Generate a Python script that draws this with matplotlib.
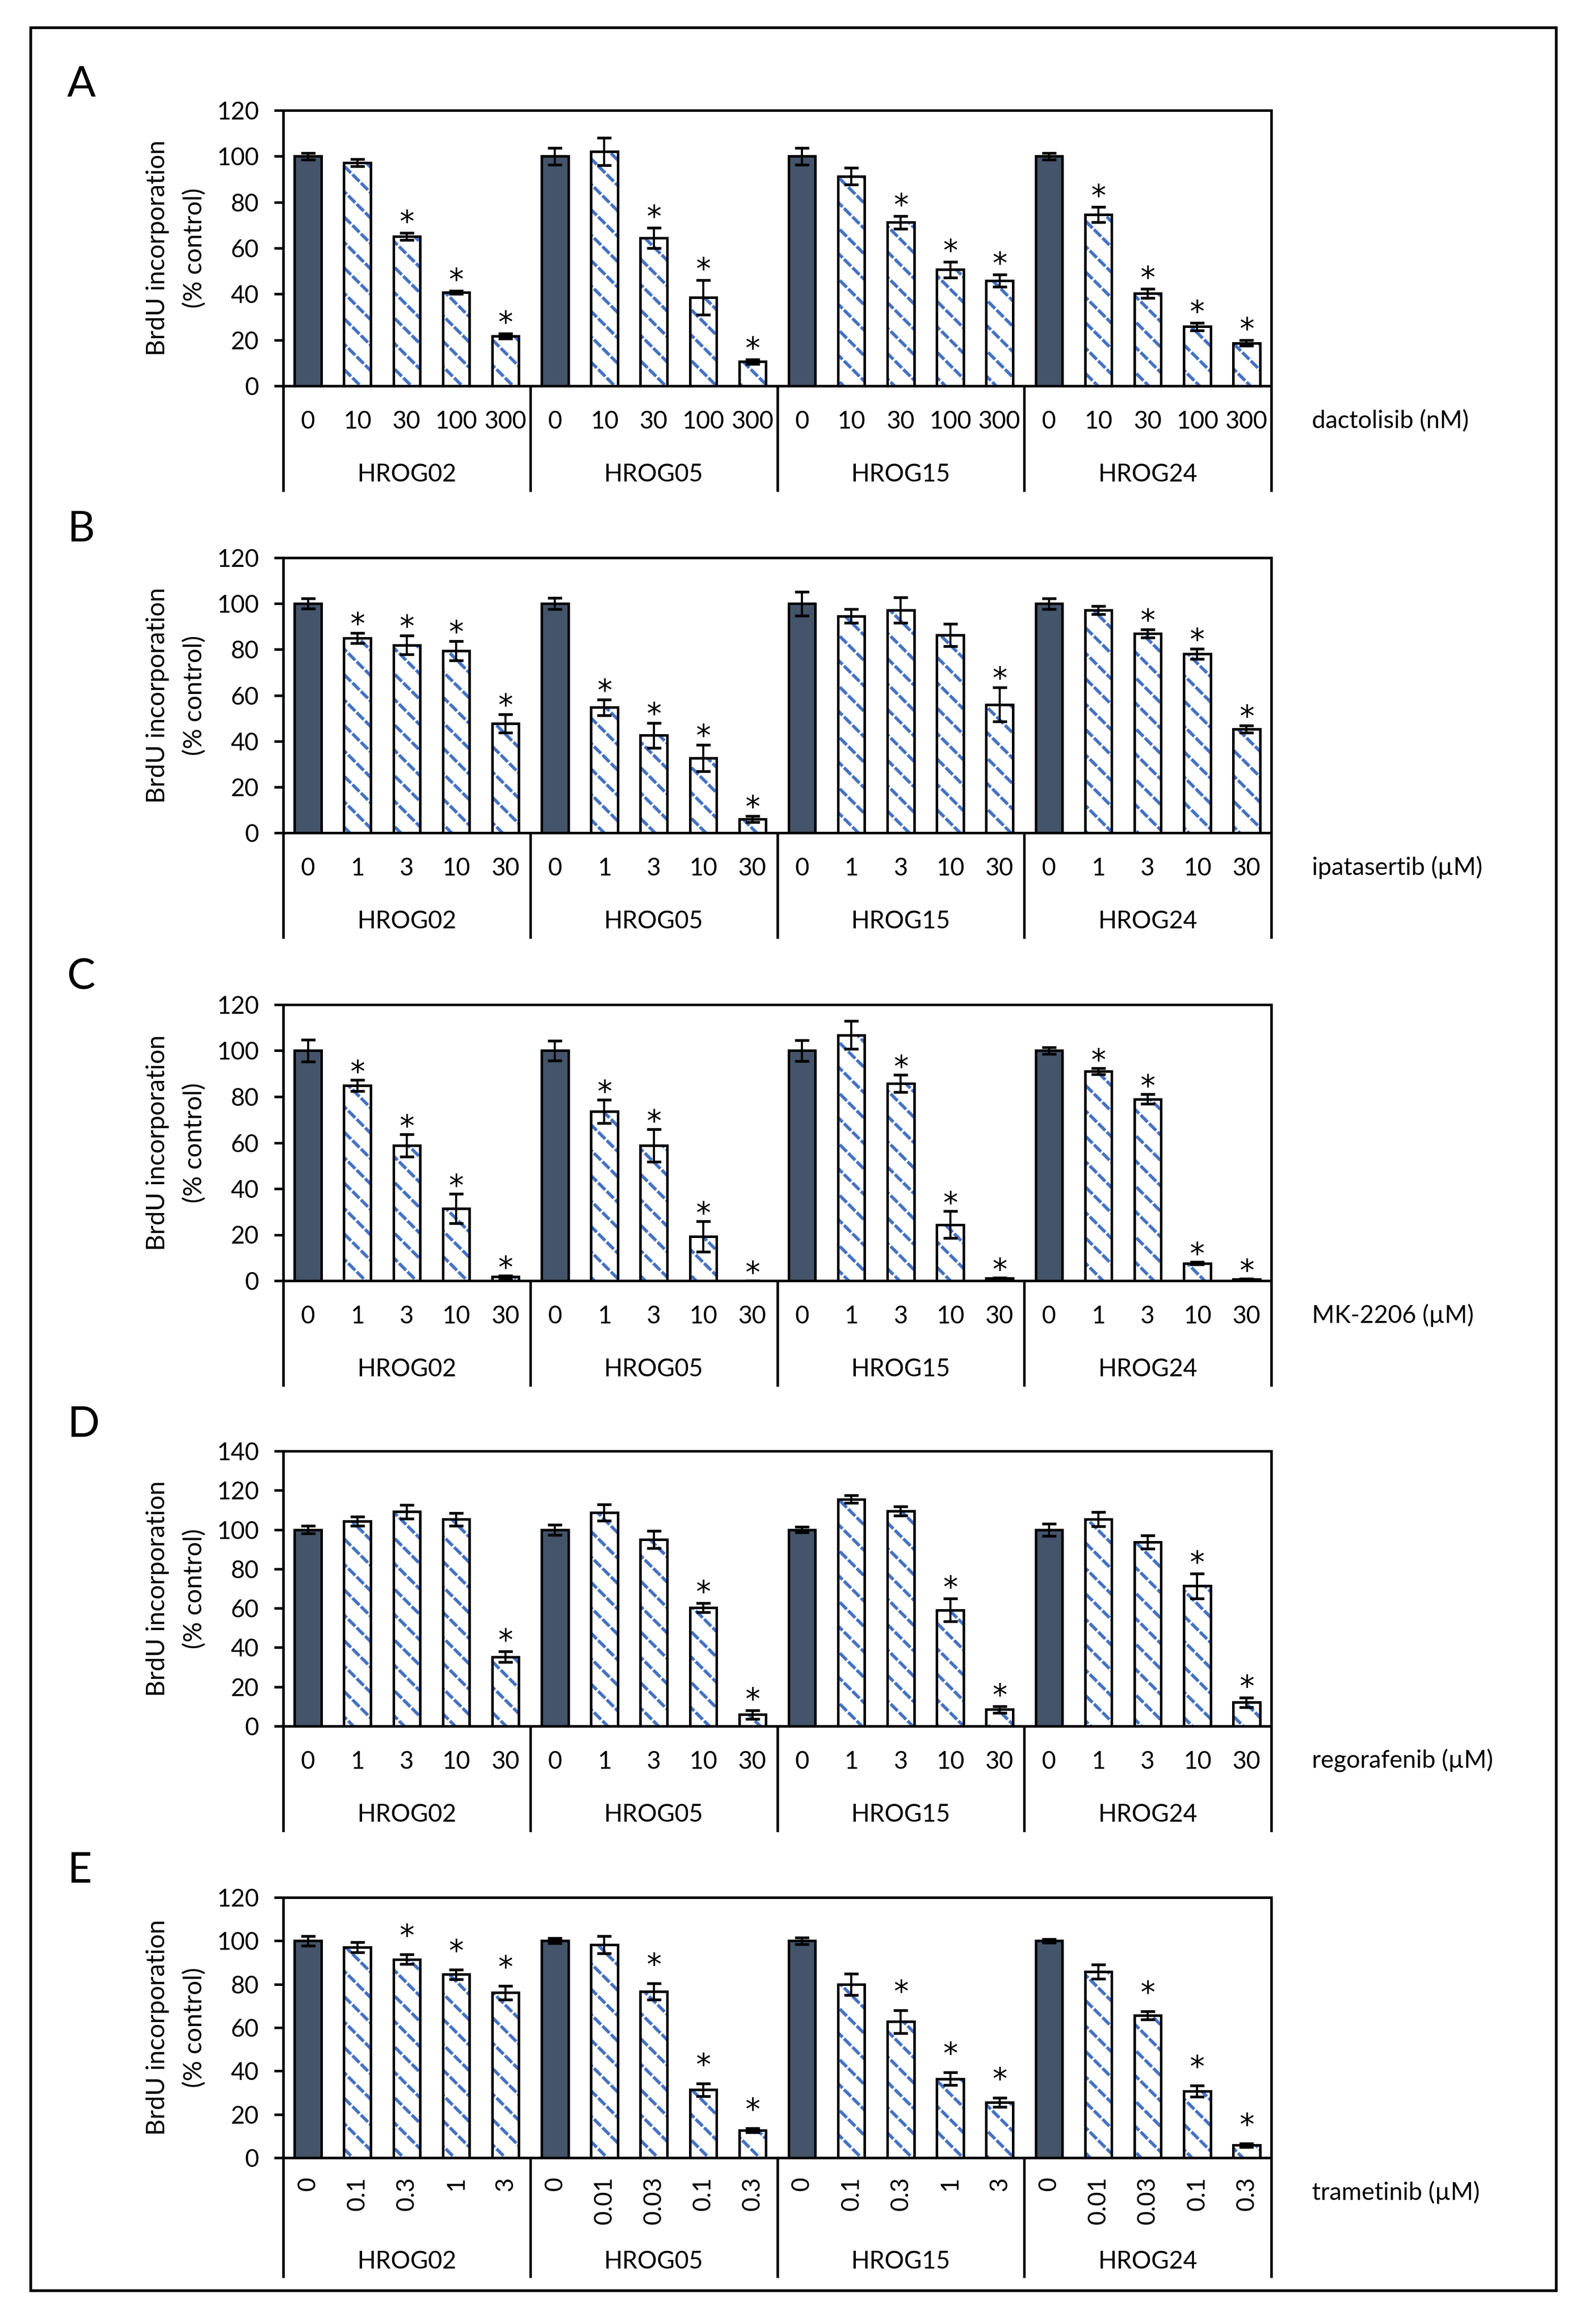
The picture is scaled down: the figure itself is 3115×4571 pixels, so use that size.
import numpy as np
import matplotlib
matplotlib.use("Agg")
import matplotlib.pyplot as plt
from matplotlib.patches import Rectangle

plt.rcParams['font.family'] = ['Lato', 'DejaVu Sans']
plt.rcParams['hatch.linewidth'] = 1.3

# ---------------- data ----------------
cell_lines = ['HROG02', 'HROG05', 'HROG15', 'HROG24']

dact_conc = ['0', '10', '30', '100', '300'] * 4
dact_mean = [100, 97.2, 65.1, 40.7, 21.7,
             100, 102.1, 64.4, 38.6, 10.6,
             100, 91.3, 71.2, 50.6, 45.8,
             100, 74.6, 40.3, 25.8, 18.7]
dact_err = [1.5, 1.5, 1.5, 0.6, 1.0,
            3.6, 6.0, 4.4, 7.5, 1.0,
            3.6, 3.7, 2.8, 3.4, 2.6,
            1.5, 3.4, 2.0, 1.6, 1.2]
dact_sig = [0, 0, 1, 1, 1,
            0, 0, 1, 1, 1,
            0, 0, 1, 1, 1,
            0, 1, 1, 1, 1]

ipat_conc = ['0', '1', '3', '10', '30'] * 4
ipat_mean = [100, 84.9, 81.9, 79.4, 47.7,
             100, 54.7, 42.5, 32.6, 6.0,
             100, 94.5, 97.2, 86.2, 56.0,
             100, 97.2, 87.0, 78.0, 45.3]
ipat_err = [2.2, 2.2, 4.1, 4.3, 4.0,
            2.5, 3.5, 5.4, 5.7, 1.3,
            5.2, 3.0, 5.6, 4.9, 7.4,
            2.3, 1.8, 1.8, 2.2, 1.5]
ipat_sig = [0, 1, 1, 1, 1,
            0, 1, 1, 1, 1,
            0, 0, 0, 0, 1,
            0, 0, 1, 1, 1]

mk_conc = ['0', '1', '3', '10', '30'] * 4
mk_mean = [100, 84.8, 58.8, 31.4, 1.7,
           100, 73.6, 58.8, 19.3, 0.0,
           100, 106.8, 85.8, 24.4, 1.0,
           100, 91.1, 79.0, 7.6, 0.7]
mk_err = [4.8, 2.4, 4.9, 6.4, 0.5,
          4.4, 5.1, 7.0, 6.6, 0.0,
          4.6, 6.1, 3.8, 5.8, 0.3,
          1.5, 1.3, 2.1, 0.6, 0.2]
mk_sig = [0, 1, 1, 1, 1,
          0, 1, 1, 1, 1,
          0, 0, 1, 1, 1,
          0, 1, 1, 1, 1]

rego_conc = ['0', '1', '3', '10', '30'] * 4
rego_mean = [100, 104.3, 109.1, 105.2, 35.3,
             100, 108.7, 95.0, 60.3, 5.9,
             100, 115.5, 109.5, 59.1, 8.5,
             100, 105.3, 93.7, 71.3, 12.1]
rego_err = [1.9, 2.3, 3.5, 3.3, 2.7,
            2.6, 4.2, 4.3, 2.3, 2.2,
            1.5, 2.0, 2.3, 5.8, 1.7,
            3.1, 3.7, 3.4, 6.4, 2.4]
rego_sig = [0, 0, 0, 0, 1,
            0, 0, 0, 1, 1,
            0, 0, 0, 1, 1,
            0, 0, 0, 1, 1]

tram_conc = ['0', '0.1', '0.3', '1', '3',
             '0', '0.01', '0.03', '0.1', '0.3',
             '0', '0.1', '0.3', '1', '3',
             '0', '0.01', '0.03', '0.1', '0.3']
tram_mean = [100, 97.0, 91.5, 84.5, 76.1,
             100, 98.2, 76.7, 31.3, 12.7,
             100, 80.0, 62.7, 36.4, 25.6,
             100, 85.8, 65.6, 30.7, 5.8]
tram_err = [2.3, 2.3, 2.2, 2.3, 3.1,
            1.2, 3.9, 3.8, 3.0, 1.0,
            1.5, 4.9, 5.2, 2.9, 2.1,
            0.8, 3.2, 1.8, 2.5, 0.8]
tram_sig = [0, 0, 1, 1, 1,
            0, 0, 1, 1, 1,
            0, 0, 1, 1, 1,
            0, 0, 1, 1, 1]

drug_labels = ['dactolisib (nM)', 'ipatasertib (µM)', 'MK-2206 (µM)',
               'regorafenib (µM)', 'trametinib (µM)']
panel_letters = ['A', 'B', 'C', 'D', 'E']
y_max = [120, 120, 120, 140, 120]

panels = [
    (dact_conc, dact_mean, dact_err, dact_sig),
    (ipat_conc, ipat_mean, ipat_err, ipat_sig),
    (mk_conc, mk_mean, mk_err, mk_sig),
    (rego_conc, rego_mean, rego_err, rego_sig),
    (tram_conc, tram_mean, tram_err, tram_sig),
]

# ---------------- layout (pixels) ----------------
W, H, DPI = 3115, 4571, 300
PT = 72.0 / DPI  # points per pixel
ax_left, ax_right = 557, 2500
ax_tops = [217, 1097, 1976, 2854, 3732]
ax_bots = [759, 1638, 2519, 3395, 4244]
letter_base = [190, 1065, 1945, 2826, 3703]
star_gap = [30, 26, 24, 30, 45]

DARK = '#44546A'
BLUE = '#4472C4'
FS = 11.5
STAR_FS = 14


def set_hlw(container, lw):
    try:
        for patch in container:
            patch.set_hatch_linewidth(lw)
    except Exception:
        pass


fig = plt.figure(figsize=(W / DPI, H / DPI), dpi=DPI)

for p, (conc, mean, err, sig) in enumerate(panels):
    top, bot = ax_tops[p], ax_bots[p]
    ax_h = bot - top
    ax = fig.add_axes([ax_left / W, 1 - bot / H, (ax_right - ax_left) / W, ax_h / H])
    mean = np.asarray(mean, float)
    err = np.asarray(err, float)
    x = np.arange(len(mean))
    ctrl = (x % 5 == 0)
    trt = ~ctrl
    w = 0.54

    b1 = ax.bar(x[trt], mean[trt], w, color='white', edgecolor=BLUE, hatch='\\\\',
                linewidth=0, zorder=2)
    set_hlw(b1, 1.5)
    b2 = ax.bar(x[trt], mean[trt], w, fill=False, edgecolor='white', hatch='///',
                linewidth=0, zorder=2.1)
    set_hlw(b2, 1.0)
    ax.bar(x[trt], mean[trt], w, fill=False, edgecolor='black', linewidth=1.2,
           zorder=2.2)
    ax.bar(x[ctrl], mean[ctrl], w, color=DARK, edgecolor='black', linewidth=1.2,
           zorder=2.2)
    ax.errorbar(x, mean, yerr=err, fmt='none', ecolor='black', elinewidth=1.0,
                capsize=3.4, capthick=1.3, zorder=3)

    # significance stars
    for i in x:
        if sig[i]:
            ax.annotate('*', xy=(i, mean[i] + err[i]),
                        xytext=(0, star_gap[p] * PT - 0.48 * STAR_FS),
                        textcoords='offset points', ha='center', va='baseline',
                        fontsize=STAR_FS, family=['DejaVu Sans'], zorder=4,
                        annotation_clip=False)

    ax.set_xlim(-0.5, 19.5)
    ax.set_ylim(0, y_max[p])
    ax.set_yticks(np.arange(0, y_max[p] + 1, 20))
    ax.set_xticks([])
    ax.tick_params(axis='y', direction='out', length=18 * PT, width=1.2,
                   labelsize=FS, pad=30 * PT)
    for s in ax.spines.values():
        s.set_linewidth(1.2)
        s.set_color('black')

    # category labels
    rotated = (p == 4)
    for i in x:
        if rotated:
            ax.annotate(conc[i], xy=(i, 0), xycoords=('data', 'axes fraction'),
                        xytext=(0, -37 * PT), textcoords='offset points',
                        ha='center', va='top', rotation=90, fontsize=FS)
        else:
            ax.annotate(conc[i], xy=(i, 0), xycoords=('data', 'axes fraction'),
                        xytext=(0, -70 * PT), textcoords='offset points',
                        ha='center', va='center', fontsize=FS)
    grp_off = 204 if rotated else 174
    div_off = 236 if rotated else 208
    for g, name in enumerate(cell_lines):
        ax.annotate(name, xy=(5 * g + 2, 0), xycoords=('data', 'axes fraction'),
                    xytext=(0, -grp_off * PT), textcoords='offset points',
                    ha='center', va='center', fontsize=FS)
    for xd in [-0.5, 4.5, 9.5, 14.5, 19.5]:
        ax.plot([xd, xd], [0, -div_off / ax_h], transform=ax.get_xaxis_transform(),
                color='black', lw=1.2, clip_on=False, solid_capstyle='butt')

    ax.annotate(drug_labels[p], xy=(1, 0), xycoords='axes fraction',
                xytext=(80 * PT, -68 * PT), textcoords='offset points',
                ha='left', va='center', fontsize=FS)

    fig.text(346 / W, 1 - (top + bot) / 2 / H, 'BrdU incorporation\n(% control)',
             rotation=90, ha='center', va='center', multialignment='center',
             linespacing=1.7, fontsize=12)
    fig.text(132 / W, 1 - letter_base[p] / H, panel_letters[p], fontsize=20,
             ha='left', va='baseline')

fig.add_artist(Rectangle((60 / W, 1 - 4505 / H), 3000 / W, (4505 - 54) / H,
                         transform=fig.transFigure, fill=False, lw=1.3,
                         edgecolor='black'))

fig.savefig('out.png', dpi=DPI)
